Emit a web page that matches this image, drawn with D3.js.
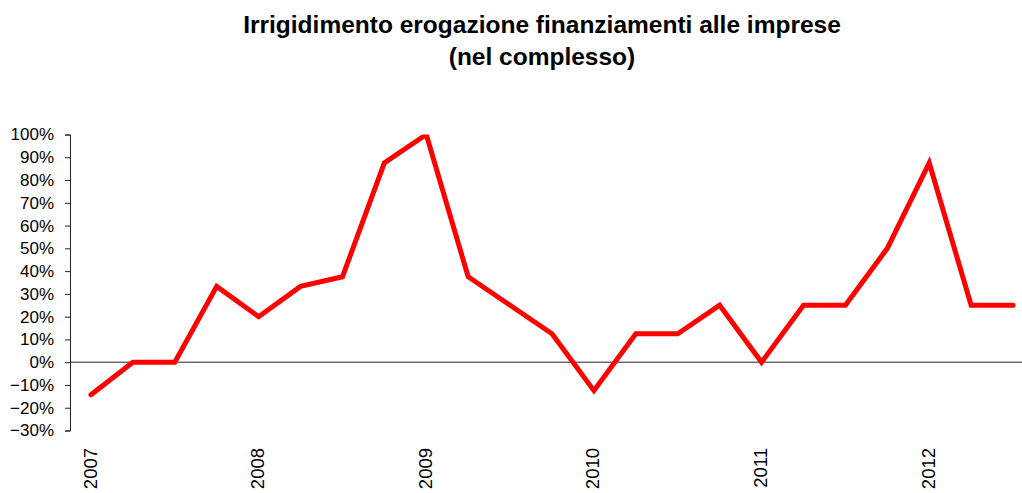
<!DOCTYPE html>
<html>
<head>
<meta charset="utf-8">
<script src="https://cdn.jsdelivr.net/npm/d3@7"></script>
<style>
  body { margin: 0; background: #fff; }
  svg { display: block; font-family: "Liberation Sans", Arial, sans-serif; }
</style>
</head>
<body>
<div id="chart"></div>
<script>
// quarterly survey data, 2007 Q1 .. 2012 Q3
const quarters = [
    "2007 T1", "2007 T2", "2007 T3", "2007 T4",
    "2008 T1", "2008 T2", "2008 T3", "2008 T4",
    "2009 T1", "2009 T2", "2009 T3", "2009 T4",
    "2010 T1", "2010 T2", "2010 T3", "2010 T4",
    "2011 T1", "2011 T2", "2011 T3", "2011 T4",
    "2012 T1", "2012 T2", "2012 T3"
];

const values = [
    -0.143, 0, 0, 0.333,
    0.20, 0.333, 0.375, 0.875,
    1.00, 0.375, 0.25, 0.125,
    -0.125, 0.125, 0.125, 0.25,
    0, 0.25, 0.25, 0.50,
    0.875, 0.25, 0.25
];

// year label shown on first quarter of each year
const yearTicks = {
    "2007 T1": "2007", "2008 T1": "2008", "2009 T1": "2009",
    "2010 T1": "2010", "2011 T1": "2011", "2012 T1": "2012"
};

const yTicks = [-0.3, -0.2, -0.1, 0, 0.1, 0.2, 0.3, 0.4, 0.5, 0.6, 0.7, 0.8, 0.9, 1.0];

const title = ["Irrigidimento erogazione finanziamenti alle imprese", "(nel complesso)"];

const W = 1022, H = 493;
const plot = {left: 70, right: 1034, top: 134.5, bottom: 430.5};

const data = quarters.map((q, i) => ({key: q, value: values[i]}));

const svg = d3.select("#chart")
    .append("svg")
    .attr("width", W)
    .attr("height", H);

let x = d3.scaleBand().domain(quarters).range([plot.left, plot.right]).padding(0);
let y = d3.scaleLinear().domain([-0.3, 1.0]).range([plot.bottom, plot.top]);

svg.append("defs").append("clipPath")
    .attr("id", "plotclip")
    .append("rect")
    .attr("x", plot.left)
    .attr("y", plot.top)
    .attr("width", plot.right - plot.left)
    .attr("height", plot.bottom - plot.top);

// title
svg.append("g")
    .selectAll("text")
    .data(title)
    .enter()
    .append("text")
    .attr("x", 542)
    .attr("y", (d, i) => 33 + i * 32)
    .attr("text-anchor", "middle")
    .style("font-size", "24.5px")
    .style("font-weight", "bold")
    .text(d => d);

// y axis
const yAxis = svg.append("g")
    .attr("class", "axis")
    .attr("transform", "translate(" + plot.left + ",0)")
    .call(d3.axisLeft(y)
        .tickValues(yTicks)
        .tickFormat(d3.format(".0%"))
        .tickSize(5)
        .tickPadding(11));

yAxis.select(".domain").attr("stroke", "#222");
yAxis.selectAll(".tick line").attr("stroke", "#222");
yAxis.selectAll("text")
    .style("font-size", "17px")
    .attr("fill", "#000")
    .attr("font-family", null);

// zero line
svg.append("line")
    .attr("x1", plot.left)
    .attr("x2", W)
    .attr("y1", y(0))
    .attr("y2", y(0))
    .attr("stroke", "#222")
    .attr("stroke-width", 1);

// year labels
svg.append("g")
    .selectAll("text")
    .data(quarters.filter(q => yearTicks[q]))
    .enter()
    .append("text")
    .attr("transform", d => "translate(" + (x(d) + x.bandwidth() / 2) + ",448) rotate(-90)")
    .attr("dy", "0.3em")
    .attr("text-anchor", "end")
    .style("font-size", "18.5px")
    .text(d => yearTicks[d]);

// series line
const valueline = d3.line()
    .x(d => x(d.key) + x.bandwidth() / 2)
    .y(d => y(d.value));

svg.append("path")
    .datum(data)
    .attr("clip-path", "url(#plotclip)")
    .attr("fill", "none")
    .attr("stroke", "#ff0000")
    .attr("stroke-width", 5)
    .attr("stroke-linecap", "round")
    .attr("stroke-linejoin", "miter")
    .attr("d", valueline);
</script>
</body>
</html>
